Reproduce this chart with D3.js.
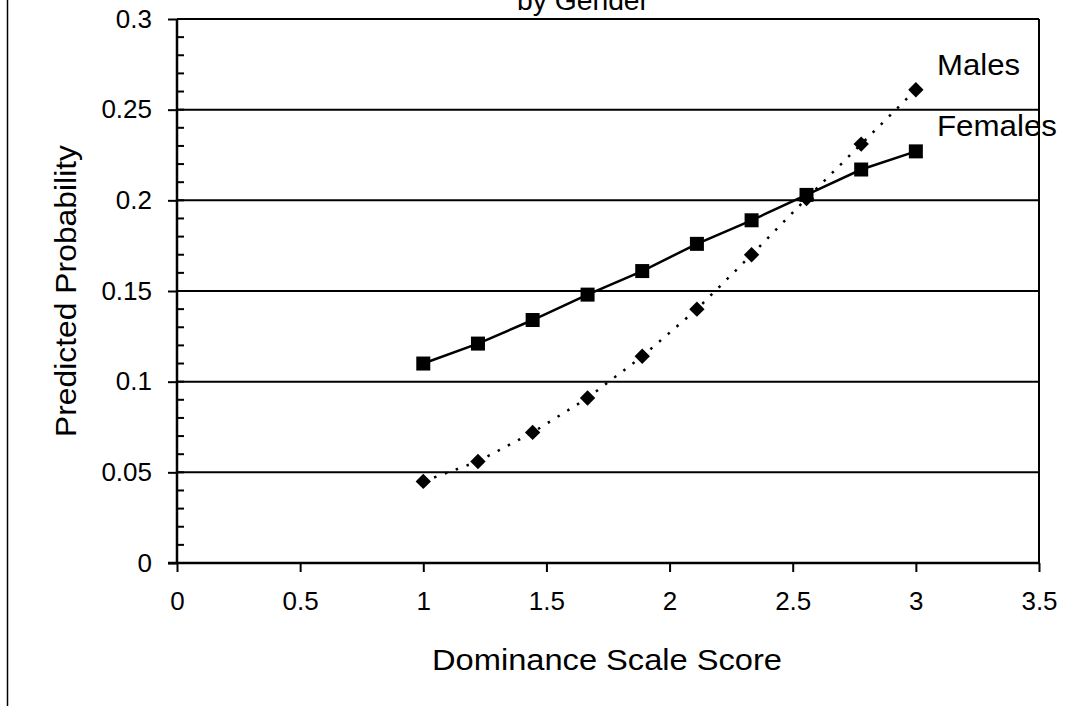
<!DOCTYPE html>
<html>
<head>
<meta charset="utf-8">
<script src="https://cdn.jsdelivr.net/npm/d3@7"></script>
<style>
  html, body { margin: 0; padding: 0; background: #fff; }
  svg { display: block; }
  text { font-family: "Liberation Sans", Arial, sans-serif; fill: #000; }
</style>
</head>
<body>
<svg id="chart" width="1085" height="706"></svg>
<script>
// ---- data ----
const scores = [1, 1.222, 1.444, 1.667, 1.889, 2.111, 2.333, 2.556, 2.778, 3];
const females = [0.110, 0.121, 0.134, 0.148, 0.161, 0.176, 0.189, 0.203, 0.217, 0.227];
const males = [0.045, 0.056, 0.072, 0.091, 0.114, 0.140, 0.170, 0.201, 0.231, 0.261];
const xTicks = [0, 0.5, 1, 1.5, 2, 2.5, 3, 3.5];
const xTickLabels = ["0", "0.5", "1", "1.5", "2", "2.5", "3", "3.5"];
const yTicks = [0, 0.05, 0.1, 0.15, 0.2, 0.25, 0.3];
const yTickLabels = ["0", "0.05", "0.1", "0.15", "0.2", "0.25", "0.3"];
const yMinorTicks = d3.range(0, 31).map(d => d / 100);
const titleText = "by Gender";
const xTitle = "Dominance Scale Score";
const yTitle = "Predicted Probability";
const seriesNames = ["Males", "Females"];

// ---- layout ----
const svg = d3.select("#chart");
const pLeft = 177, pRight = 1039, pTop = 19, pBottom = 563;
const x = d3.scaleLinear().domain([0, 3.5]).range([pLeft, pRight]);
const y = d3.scaleLinear().domain([0, 0.3]).range([pBottom, pTop]);

// outer chart border (only the left edge is visible)
svg.append("rect").attr("x", 7.5).attr("y", -10).attr("width", 1200).attr("height", 730)
  .attr("fill", "none").attr("stroke", "#000").attr("stroke-width", 1.5);

// title (partly cut off at top, as in the reference)
svg.append("text").attr("x", 583).attr("y", 10).attr("text-anchor", "middle")
  .attr("font-size", 28).attr("textLength", 132).attr("lengthAdjust", "spacingAndGlyphs")
  .text(titleText);

// gridlines
svg.append("g").selectAll("line").data(yTicks.filter(d => d > 0)).join("line")
  .attr("x1", pLeft).attr("x2", pRight)
  .attr("y1", d => y(d)).attr("y2", d => y(d))
  .attr("stroke", "#000").attr("stroke-width", 2);

// right border of plot area
svg.append("line").attr("x1", pRight).attr("x2", pRight).attr("y1", pTop).attr("y2", pBottom)
  .attr("stroke", "#000").attr("stroke-width", 2);

// y axis with outside major ticks
const yAxis = d3.axisLeft(y).tickValues(yTicks).tickFormat((d, i) => yTickLabels[i])
  .tickSize(9).tickPadding(16);
const gy = svg.append("g").attr("transform", `translate(${pLeft},0)`).call(yAxis);
gy.select(".domain").attr("stroke-width", 2.5).attr("d", `M0,${pTop}V${pBottom}`);
gy.selectAll(".tick line").attr("stroke-width", 2);
gy.selectAll(".tick text").attr("font-size", 26).attr("font-family", "Liberation Sans, Arial, sans-serif");
// minor ticks inside
svg.append("g").selectAll("line").data(yMinorTicks).join("line")
  .attr("x1", pLeft).attr("x2", pLeft + 7)
  .attr("y1", d => y(d)).attr("y2", d => y(d))
  .attr("stroke", "#000").attr("stroke-width", 2);

// x axis
const xAxis = d3.axisBottom(x).tickValues(xTicks).tickFormat((d, i) => xTickLabels[i])
  .tickSize(9).tickPadding(20);
const gx = svg.append("g").attr("transform", `translate(0,${pBottom})`).call(xAxis);
gx.select(".domain").attr("stroke-width", 2.5).attr("d", `M${pLeft - 9},0H${pRight}`);
gx.selectAll(".tick line").attr("stroke-width", 2);
gx.selectAll(".tick text").attr("font-size", 26).attr("font-family", "Liberation Sans, Arial, sans-serif");

// axis titles
svg.append("text").attr("x", 607).attr("y", 670).attr("text-anchor", "middle")
  .attr("font-size", 30).attr("textLength", 350).attr("lengthAdjust", "spacingAndGlyphs")
  .text(xTitle);
svg.append("text").attr("transform", "translate(76,291) rotate(-90)").attr("text-anchor", "middle")
  .attr("font-size", 30).attr("textLength", 292).attr("lengthAdjust", "spacingAndGlyphs")
  .text(yTitle);

// lines
const line = d3.line().x((d, i) => x(scores[i])).y(d => y(d));
svg.append("path").datum(females).attr("d", line).attr("fill", "none")
  .attr("stroke", "#000").attr("stroke-width", 2.5);
svg.append("path").datum(males).attr("d", line).attr("fill", "none")
  .attr("stroke", "#000").attr("stroke-width", 2.5).attr("stroke-dasharray", "2.5,9");

// markers
svg.append("g").selectAll("rect").data(females).join("rect")
  .attr("x", (d, i) => x(scores[i]) - 7).attr("y", d => y(d) - 7)
  .attr("width", 14).attr("height", 14).attr("fill", "#000");
svg.append("g").selectAll("path").data(males).join("path")
  .attr("transform", (d, i) => `translate(${x(scores[i])},${y(d)}) rotate(45)`)
  .attr("d", d3.symbol().type(d3.symbolSquare).size(118)).attr("fill", "#000");

// series labels
svg.append("text").attr("x", 937).attr("y", 75).attr("font-size", 29)
  .attr("textLength", 83).attr("lengthAdjust", "spacingAndGlyphs").text(seriesNames[0]);
svg.append("text").attr("x", 937).attr("y", 136).attr("font-size", 29)
  .attr("textLength", 120).attr("lengthAdjust", "spacingAndGlyphs").text(seriesNames[1]);
</script>
</body>
</html>
